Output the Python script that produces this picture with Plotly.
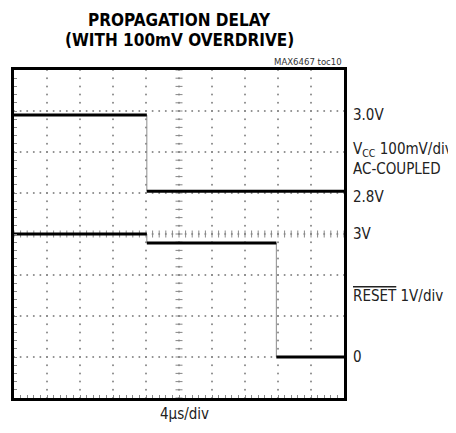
"""Scope capture: propagation delay with 100mV overdrive (MAX6467 toc10)."""

import numpy as np
import plotly.graph_objects as go

# time axis, 4us/div, 10 divisions
t_range = [0, 40]
t_div = 4.0

# VCC trace (100mV/div, AC-coupled): level segments [start, end, volts]
vcc_start = [0.0, 16.1]
vcc_end = [16.1, 40.0]
vcc_level = [3.0, 2.814]

# RESET trace (1V/div): level segments
reset_start = [0.0, 16.1, 31.8]
reset_end = [16.1, 31.8, 40.0]
reset_level = [3.0, 2.78, 0.0]

vcc_range = [2.31, 3.11]
reset_range = [-1.0, 7.0]

FONT = "DejaVu Sans Condensed, Liberation Sans Narrow, Arial Narrow, sans-serif"


def _step_path(starts, ends, levels):
    """Connect level segments into one stepped path."""
    xs, ys = [], []
    for s, e, v in zip(starts, ends, levels):
        xs += [s, e]
        ys += [v, v]
    return xs, ys


def _segments(starts, ends, levels):
    """Level segments separated by gaps."""
    xs, ys = [], []
    for s, e, v in zip(starts, ends, levels):
        xs += [s, e, None]
        ys += [v, v, None]
    return xs, ys


def _grid_traces():
    """Dotted graticule with a ticked centre cross, in division units."""
    fine = np.round(np.arange(0, 10.01, 0.2), 2)
    fine_y = np.round(np.arange(0, 8.01, 0.2), 2)
    gx, gy = [], []
    for row in range(1, 8):
        gx += list(fine * t_div)
        gy += [row] * len(fine)
    for col in range(1, 10):
        gx += [col * t_div] * len(fine_y)
        gy += list(fine_y)
    dots = go.Scatter(
        x=gx, y=gy, mode="markers", yaxis="y",
        marker=dict(size=2, color="#8a8a8a", line_width=0),
        hoverinfo="skip", showlegend=False,
    )
    h_ticks = go.Scatter(
        x=list(fine * t_div), y=[4] * len(fine), mode="markers", yaxis="y",
        marker=dict(symbol="line-ns", size=5, line=dict(width=1, color="#888")),
        hoverinfo="skip", showlegend=False,
    )
    v_ticks = go.Scatter(
        x=[20] * len(fine_y), y=list(fine_y), mode="markers", yaxis="y",
        marker=dict(symbol="line-ew", size=5, line=dict(width=1, color="#888")),
        hoverinfo="skip", showlegend=False,
    )
    return [dots, h_ticks, v_ticks]


def _trace_pair(starts, ends, levels, axis):
    """Thin grey edges plus thick black levels."""
    ex, ey = _step_path(starts, ends, levels)
    sx, sy = _segments(starts, ends, levels)
    edges = go.Scatter(
        x=ex, y=ey, mode="lines", yaxis=axis,
        line=dict(color="#8c8c8c", width=1),
        hoverinfo="skip", showlegend=False,
    )
    levels_tr = go.Scatter(
        x=sx, y=sy, mode="lines", yaxis=axis,
        line=dict(color="black", width=3),
        hoverinfo="skip", showlegend=False,
    )
    return [edges, levels_tr]


fig = go.Figure()
for tr in _grid_traces():
    fig.add_trace(tr)
for tr in _trace_pair(vcc_start, vcc_end, vcc_level, "y2"):
    fig.add_trace(tr)
for tr in _trace_pair(reset_start, reset_end, reset_level, "y3"):
    fig.add_trace(tr)

label_font = dict(family=FONT, size=15, color="#222")
fig.update_layout(
    # page body keeps an 8px margin, so the figure is 8px smaller each way
    width=448,
    height=425,
    margin=dict(l=6, r=112, t=62, b=35),
    paper_bgcolor="white",
    plot_bgcolor="white",
    showlegend=False,
    xaxis=dict(
        range=t_range, showgrid=False, zeroline=False,
        showline=True, linewidth=3, linecolor="black", mirror=True,
        ticks="inside", tickmode="linear", tick0=0, dtick=0.8,
        ticklen=3, tickcolor="#888", showticklabels=False,
    ),
    yaxis=dict(
        range=[0, 8], showgrid=False, zeroline=False,
        showline=True, linewidth=3, linecolor="black", mirror=True,
        ticks="inside", tickmode="linear", tick0=0, dtick=0.2,
        ticklen=3, tickcolor="#888", showticklabels=False,
    ),
    yaxis2=dict(range=vcc_range, overlaying="y", visible=False),
    yaxis3=dict(range=reset_range, overlaying="y", visible=False),
    annotations=[
        dict(text="<b>PROPAGATION DELAY</b>", xref="paper", yref="paper",
             x=0.5, y=1.152, xanchor="center", yanchor="middle", showarrow=False,
             font=dict(family=FONT, size=17, color="black")),
        dict(text="<b>(WITH 100mV OVERDRIVE)</b>", xref="paper", yref="paper",
             x=0.5, y=1.091, xanchor="center", yanchor="middle", showarrow=False,
             font=dict(family=FONT, size=17, color="black")),
        dict(text="MAX6467 toc10", xref="paper", yref="paper",
             x=1.0, y=1.003, xanchor="right", yanchor="bottom", showarrow=False,
             font=dict(family=FONT, size=9.5, color="#333")),
        dict(text="3.0V", xref="paper", yref="y2", x=1.02, y=3.0,
             xanchor="left", yanchor="middle", showarrow=False, font=label_font),
        dict(text="V<sub>CC</sub> 100mV/div<br>AC-COUPLED", xref="paper", yref="y",
             x=1.02, y=5.83, xanchor="left", yanchor="middle", align="left",
             showarrow=False, font=label_font),
        dict(text="2.8V", xref="paper", yref="y2", x=1.02, y=2.8,
             xanchor="left", yanchor="middle", showarrow=False, font=label_font),
        dict(text="3V", xref="paper", yref="y3", x=1.02, y=3.0,
             xanchor="left", yanchor="middle", showarrow=False, font=label_font),
        dict(text="<span style='text-decoration:overline'>RESET</span> 1V/div",
             xref="paper", yref="y", x=1.02, y=2.49,
             xanchor="left", yanchor="middle", showarrow=False, font=label_font),
        dict(text="0", xref="paper", yref="y3", x=1.02, y=0.0,
             xanchor="left", yanchor="middle", showarrow=False, font=label_font),
        dict(text="4µs/div", xref="paper", yref="paper", x=0.518, y=-0.049,
             xanchor="center", yanchor="middle", showarrow=False, font=label_font),
    ],
)

fig.write_html("out.html")
